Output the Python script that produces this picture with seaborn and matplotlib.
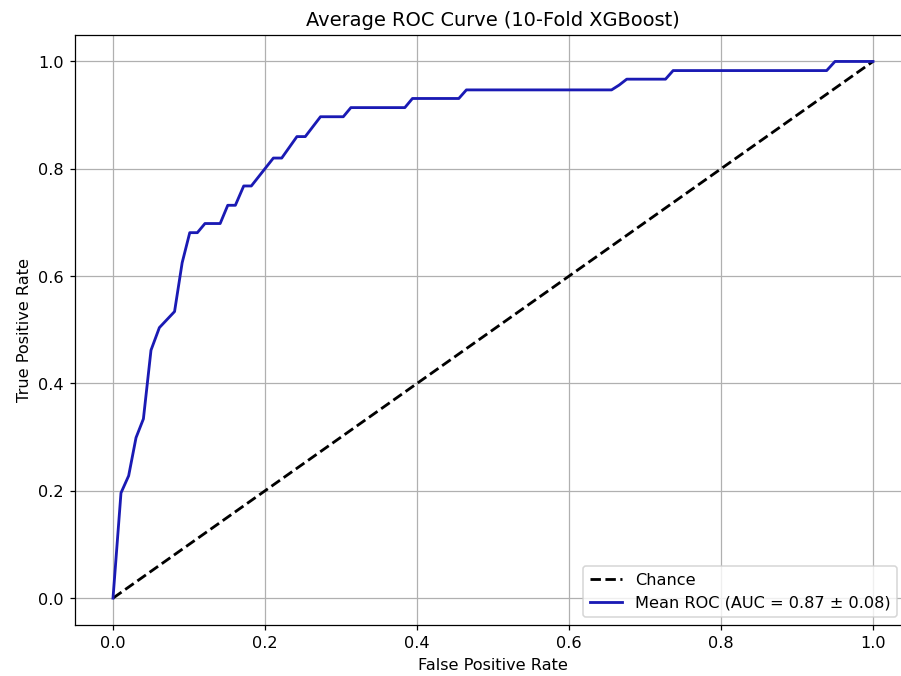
import matplotlib
matplotlib.use("Agg")
import matplotlib.pyplot as plt
import seaborn as sns
import pandas as pd

# Mean ROC curve over 10 folds (false positive rate vs. true positive rate)
mean_fpr = [0.0, 0.0105, 0.0206, 0.0303, 0.040, 0.050, 0.061, 0.081, 0.091,
            0.101, 0.111, 0.121, 0.141, 0.151, 0.161, 0.172, 0.182, 0.211,
            0.222, 0.242, 0.253, 0.273, 0.303, 0.313, 0.384, 0.394, 0.455,
            0.465, 0.656, 0.666, 0.676, 0.727, 0.737, 0.939, 0.950, 1.0]
mean_tpr = [0.0, 0.196, 0.228, 0.299, 0.334, 0.462, 0.504, 0.534, 0.625,
            0.681, 0.681, 0.698, 0.698, 0.732, 0.732, 0.768, 0.768, 0.820,
            0.820, 0.860, 0.860, 0.897, 0.897, 0.914, 0.914, 0.931, 0.931,
            0.947, 0.947, 0.956, 0.967, 0.967, 0.983, 0.983, 1.0, 1.0]
chance_x = [0.0, 1.0]
chance_y = [0.0, 1.0]
mean_auc = 0.87
std_auc = 0.08

roc_df = pd.DataFrame({"fpr": mean_fpr, "tpr": mean_tpr})
chance_df = pd.DataFrame({"fpr": chance_x, "tpr": chance_y})

plt.rcParams["font.size"] = 10.3

dpi = 112.625
fig = plt.figure(figsize=(901 / dpi, 676.4 / dpi), dpi=dpi)
W, H = 901, 676
ax = fig.add_axes([75 / W, (H - 625) / H, (911 - 75) / W, (625 - 35) / H])

sns.lineplot(data=chance_df, x="fpr", y="tpr", ax=ax, color="black",
             linestyle="--", linewidth=1.8, label="Chance", sort=False)
sns.lineplot(data=roc_df, x="fpr", y="tpr", ax=ax, color="#1a1ab4",
             linewidth=1.8, sort=False,
             label=f"Mean ROC (AUC = {mean_auc:.2f} \u00b1 {std_auc:.2f})")

ax.set_xlim(-0.05, 1.05)
ax.set_ylim(-0.05, 1.05)
ax.set_xticks([0.0, 0.2, 0.4, 0.6, 0.8, 1.0])
ax.set_yticks([0.0, 0.2, 0.4, 0.6, 0.8, 1.0])
ax.set_xlabel("False Positive Rate")
ax.set_ylabel("True Positive Rate")
ax.set_title("Average ROC Curve (10-Fold XGBoost)", fontsize=12.4)
ax.grid(True)
ax.legend(loc="lower right", bbox_to_anchor=(0.983, 0.0136), borderaxespad=0)

fig.savefig("out.png", dpi=dpi)
